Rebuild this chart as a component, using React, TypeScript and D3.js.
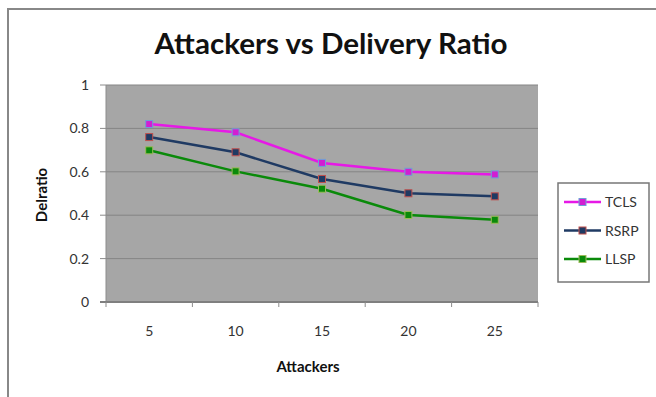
import React from "react";
import * as d3 from "d3";

const categories = ["5", "10", "15", "20", "25"];
const seriesNames = ["TCLS", "RSRP", "LLSP"];
const tclsValues = [0.82, 0.782, 0.641, 0.6, 0.588];
const rsrpValues = [0.76, 0.69, 0.567, 0.501, 0.487];
const llspValues = [0.699, 0.602, 0.522, 0.401, 0.379];
const yTicks = [0, 0.2, 0.4, 0.6, 0.8, 1];
const yTickLabels = ["0", "0.2", "0.4", "0.6", "0.8", "1"];

const seriesStyles = [
  { line: "#e619e6", fill: "#d21ed2", stroke: "#6f9fd8" },
  { line: "#1f3a63", fill: "#1f3a63", stroke: "#c0504d" },
  { line: "#0a8a0a", fill: "#0a8a0a", stroke: "#9bbb59" },
];

export default function App() {
  const W = 656, H = 397;
  const left = 106, right = 538, top = 85, bottom = 302;
  const x = d3.scaleBand<string>().domain(categories).range([left, right]);
  const y = d3.scaleLinear().domain([0, 1]).range([bottom, top]);
  const data = [tclsValues, rsrpValues, llspValues];
  const line = d3
    .line<number>()
    .x((_, i) => (x(categories[i]) as number) + x.bandwidth() / 2)
    .y((d) => y(d));
  const font = "Lato, 'Open Sans', sans-serif";
  const tickEdges = [...categories.map((c) => x(c) as number), right];
  const ms = 7;

  return (
    <svg width={W} height={H} style={{ position: "absolute", left: 0, top: 0 }}>
      <rect x={0} y={0} width={W} height={H} fill="#ffffff" />
      {/* outer frame */}
      <line x1={7} y1={9} x2={W} y2={9} stroke="#888888" strokeWidth={2} />
      <line x1={8} y1={9} x2={8} y2={H} stroke="#888888" strokeWidth={2} />

      {/* title */}
      <text
        x={331}
        y={54}
        textAnchor="middle"
        fontFamily={font}
        fontWeight="bold"
        fontSize={28}
        textLength={353}
        lengthAdjust="spacingAndGlyphs"
        fill="#111"
      >
        Attackers vs Delivery Ratio
      </text>

      {/* plot area */}
      <rect x={left} y={top} width={right - left} height={bottom - top} fill="#a6a6a6" />
      {yTicks.map((t, i) =>
        t > 0 ? (
          <line key={"g" + i} x1={left} x2={right} y1={y(t)} y2={y(t)} stroke="#858585" strokeWidth={1} />
        ) : null
      )}
      {/* y axis */}
      <line x1={left} x2={left} y1={top} y2={bottom} stroke="#8c8c8c" strokeWidth={1} />
      {yTicks.map((t, i) => (
        <g key={"yt" + i}>
          <line x1={100} x2={left} y1={y(t)} y2={y(t)} stroke="#8c8c8c" strokeWidth={1} />
          <text
            x={89}
            y={y(t) + 5}
            textAnchor="end"
            fontFamily={font}
            fontSize={14}
            fill="#333"
          >
            {yTickLabels[i]}
          </text>
        </g>
      ))}
      {/* x axis */}
      <line x1={left - 6} x2={right} y1={bottom} y2={bottom} stroke="#7f7f7f" strokeWidth={2} />
      {tickEdges.map((e, i) => (
        <line key={"xt" + i} x1={e} x2={e} y1={bottom} y2={bottom + 5} stroke="#8c8c8c" strokeWidth={1} />
      ))}
      {categories.map((c, i) => (
        <text
          key={"xl" + i}
          x={(x(c) as number) + x.bandwidth() / 2}
          y={336}
          textAnchor="middle"
          fontFamily={font}
          fontSize={14}
          fill="#333"
        >
          {c}
        </text>
      ))}

      {/* series */}
      {data.map((vals, si) => (
        <g key={"s" + si}>
          <path d={line(vals) || ""} fill="none" stroke={seriesStyles[si].line} strokeWidth={2.5} />
          {vals.map((v, i) => (
            <rect
              key={i}
              x={(x(categories[i]) as number) + x.bandwidth() / 2 - ms / 2}
              y={y(v) - ms / 2}
              width={ms}
              height={ms}
              fill={seriesStyles[si].fill}
              stroke={seriesStyles[si].stroke}
              strokeWidth={1}
            />
          ))}
        </g>
      ))}

      {/* axis titles */}
      <text
        x={308}
        y={372}
        textAnchor="middle"
        fontFamily={font}
        fontWeight="bold"
        fontSize={15}
        fill="#111"
      >
        Attackers
      </text>
      <text
        transform="translate(47,195) rotate(-90)"
        textAnchor="middle"
        fontFamily={font}
        fontWeight="bold"
        fontSize={15}
        fill="#111"
      >
        Delratio
      </text>

      {/* legend */}
      <rect x={558} y={183} width={91} height={99} fill="#ffffff" stroke="#777" strokeWidth={1.5} />
      {seriesNames.map((n, i) => {
        const ly = 202 + i * 28.5;
        return (
          <g key={"l" + i}>
            <line x1={564} x2={601} y1={ly} y2={ly} stroke={seriesStyles[i].line} strokeWidth={2.5} />
            <rect
              x={582.5 - ms / 2}
              y={ly - ms / 2}
              width={ms}
              height={ms}
              fill={seriesStyles[i].fill}
              stroke={seriesStyles[i].stroke}
              strokeWidth={1}
            />
            <text x={605} y={ly + 5} fontFamily={font} fontSize={14} fill="#333">
              {n}
            </text>
          </g>
        );
      })}
    </svg>
  );
}
